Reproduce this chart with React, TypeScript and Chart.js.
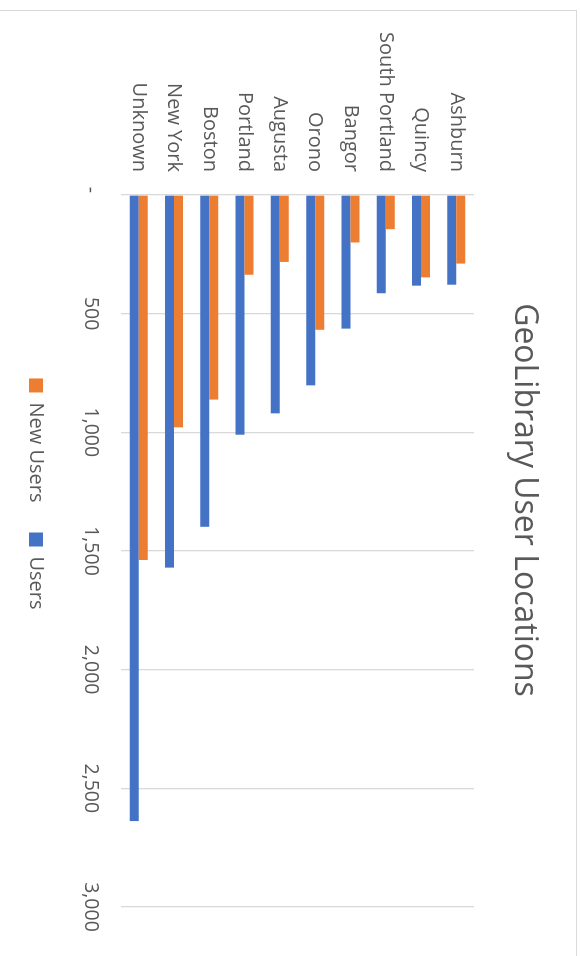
import React, { useEffect, useRef } from "react";
import { Chart, registerables } from "chart.js";

Chart.register(...registerables);

const categories = [
  "Ashburn",
  "Quincy",
  "South Portland",
  "Bangor",
  "Orono",
  "Augusta",
  "Portland",
  "Boston",
  "New York",
  "Unknown",
];
const newUsers = [289, 347, 144, 200, 568, 282, 336, 862, 979, 1538];
const users = [378, 382, 414, 563, 802, 920, 1010, 1398, 1570, 2638];
const valueTicks = [0, 500, 1000, 1500, 2000, 2500, 3000];
const tickLabels = ["-  ", "500", "1,000", "1,500", "2,000", "2,500", "3,000"];

const TEXT = "#595959";
const GRID = "#d9d9d9";
const FONT = "'Open Sans', sans-serif";

const legendShift = {
  id: "legendShift",
  afterLayout(chart: any) {
    if (chart.legend) {
      chart.legend.left -= 6;
      chart.legend.right -= 6;
    }
  },
};

export default function App() {
  const ref = useRef<HTMLCanvasElement | null>(null);

  useEffect(() => {
    if (!ref.current) return;
    const chart = new Chart(ref.current, {
      type: "bar",
      data: {
        labels: categories,
        datasets: [
          {
            label: "New Users",
            data: newUsers,
            backgroundColor: "#ED7D31",
            borderWidth: 0,
            categoryPercentage: 0.51,
            barPercentage: 1.0,
          },
          {
            label: "Users",
            data: users,
            backgroundColor: "#4472C4",
            borderWidth: 0,
            categoryPercentage: 0.51,
            barPercentage: 1.0,
          },
        ],
      },
      plugins: [legendShift],
      options: {
        indexAxis: "y",
        responsive: false,
        animation: false,
        layout: { padding: { left: 0, right: 0, top: 0, bottom: 19 } },
        plugins: {
          title: {
            display: true,
            text: "GeoLibrary User Locations",
            color: TEXT,
            font: { family: FONT, size: 32, weight: "normal" },
            padding: { top: 34, bottom: 30.6 },
          },
          legend: {
            display: true,
            position: "bottom",
            labels: {
              color: TEXT,
              font: { family: FONT, size: 20 },
              boxWidth: 14,
              boxHeight: 14,
              padding: 30,
            },
          },
          tooltip: { enabled: false },
        },
        scales: {
          x: {
            type: "linear",
            min: 0,
            max: 3000,
            afterBuildTicks: (s: any) => {
              s.ticks = valueTicks.map((v) => ({ value: v }));
            },
            afterFit: (s: any) => {
              s.height = 45;
            },
            ticks: {
              color: TEXT,
              font: { family: FONT, size: 19.5 },
              padding: 19,
              maxRotation: 0,
              callback: (v: any) => {
                const i = valueTicks.indexOf(Number(v));
                return i >= 0 ? tickLabels[i] : "";
              },
            },
            grid: { color: GRID, lineWidth: 1.3, drawTicks: false },
            border: { display: false },
          },
          y: {
            type: "category",
            afterFit: (s: any) => {
              s.width = 185;
            },
            ticks: {
              color: TEXT,
              font: { family: FONT, size: 20 },
              padding: 23,
              autoSkip: false,
            },
            grid: { display: false, drawTicks: false },
            border: { display: false },
          },
          spacer: {
            type: "category",
            position: "right",
            afterFit: (s: any) => {
              s.width = 83;
            },
            ticks: { display: false },
            grid: { display: false, drawTicks: false },
            border: { display: false },
          },
        },
      },
    });
    return () => chart.destroy();
  }, []);

  return (
    <div
      style={{
        position: "fixed",
        left: 0,
        top: 0,
        width: 580,
        height: 956,
        overflow: "hidden",
        background: "#fff",
      }}
    >
      <div
        style={{
          position: "absolute",
          left: 0,
          top: 0,
          width: 1000,
          height: 600,
          transformOrigin: "0 0",
          transform: "translateX(580px) rotate(90deg)",
        }}
      >
        <div style={{ position: "absolute", left: 10, top: 3, width: 980, height: 580 }}>
          <canvas ref={ref} width={980} height={580} style={{ width: 980, height: 580 }} />
        </div>
        <div
          style={{
            position: "absolute",
            left: 10,
            top: 3,
            width: 980,
            height: 600,
            border: `1.5px solid ${GRID}`,
            boxSizing: "border-box",
            pointerEvents: "none",
          }}
        />
      </div>
    </div>
  );
}
